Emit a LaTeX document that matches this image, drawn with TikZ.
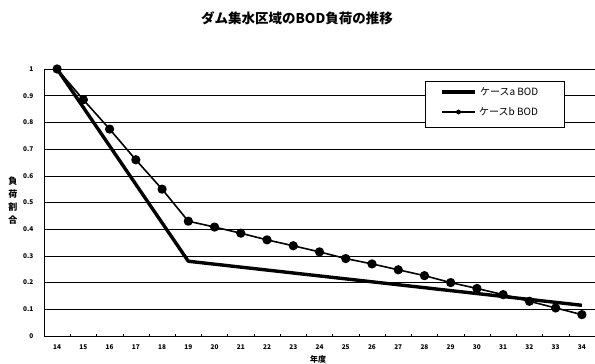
\documentclass[tikz,border=0pt]{standalone}
\usepackage{fontspec}
\setmainfont{Noto Sans CJK JP}
\tikzset{
	gridline/.style={thin},
	casea/.style={line width=3.4pt,line join=round},
	caseb/.style={line width=1.6pt,line join=round},
	tlab/.style={font=\fontsize{6.5}{7}\selectfont\bfseries},
	llab/.style={font=\fontsize{10}{11}\selectfont},
}
\begin{document}
\begin{tikzpicture}[x=1pt,y=1pt]
	\useasboundingbox (0,0) rectangle (595,364);
	\node[font=\fontsize{13.5}{14}\selectfont\bfseries] (title) at (297,346) {ダム集水区域のBOD負荷の推移};
	\node[font=\fontsize{9}{13}\selectfont\bfseries,align=center] (ylab) at (13,163) {負\\荷\\割\\合};
	\node[font=\fontsize{8}{9}\selectfont\bfseries] (xlab) at (318,5) {年度};
	\begin{scope}[shift={(57.1,28)},x=26.24pt,y=267pt]
		% grid and axes
		\foreach \v in {0.1,0.2,0.3,0.4,0.5,0.6,0.7,0.8,0.9,1}
			\draw [gridline] (-0.5,\v) -- (20.5,\v);
		\foreach \v in {0,0.1,0.2,0.3,0.4,0.5,0.6,0.7,0.8,0.9,1}
			\draw (-0.5,\v) node[tlab,left=7pt] {\v};
		\draw [semithick] (-0.5,1) -- (-0.5,0) -- (20.5,0);
		\foreach \i in {0,...,20} {
			\draw [thin] (\i+0.5,0) -- ++(0,2pt);
			\pgfmathtruncatemacro{\yr}{\i+14}
			\draw (\i,0) node[tlab,below=5pt] {\yr};
		}
		% data
		\draw [casea] (0,1) -- (5,0.28) -- (20,0.115);
		\draw [caseb] plot[mark=*,mark size=3.8pt] coordinates {(0,1) (1,0.885) (2,0.775) (3,0.66) (4,0.55) (5,0.43) (6,0.408) (7,0.385) (8,0.36) (9,0.338) (10,0.315) (11,0.29) (12,0.27) (13,0.248) (14,0.226) (15,0.2) (16,0.178) (17,0.155) (18,0.13) (19,0.105) (20,0.08)};
	\end{scope}
	% legend
	\node[draw,thick,fill=white,minimum width=139pt,minimum height=46pt] (legend) at (494.5,260) {};
	\draw [casea] (442,272) -- (475,272) node[right=0pt,llab] (la) {ケースa BOD};
	\draw [caseb] (442,252) -- (475,252) node[right=0pt,llab] (lb) {ケースb BOD};
	\fill (458.5,252) circle (2.4pt);
\end{tikzpicture}
\end{document}
